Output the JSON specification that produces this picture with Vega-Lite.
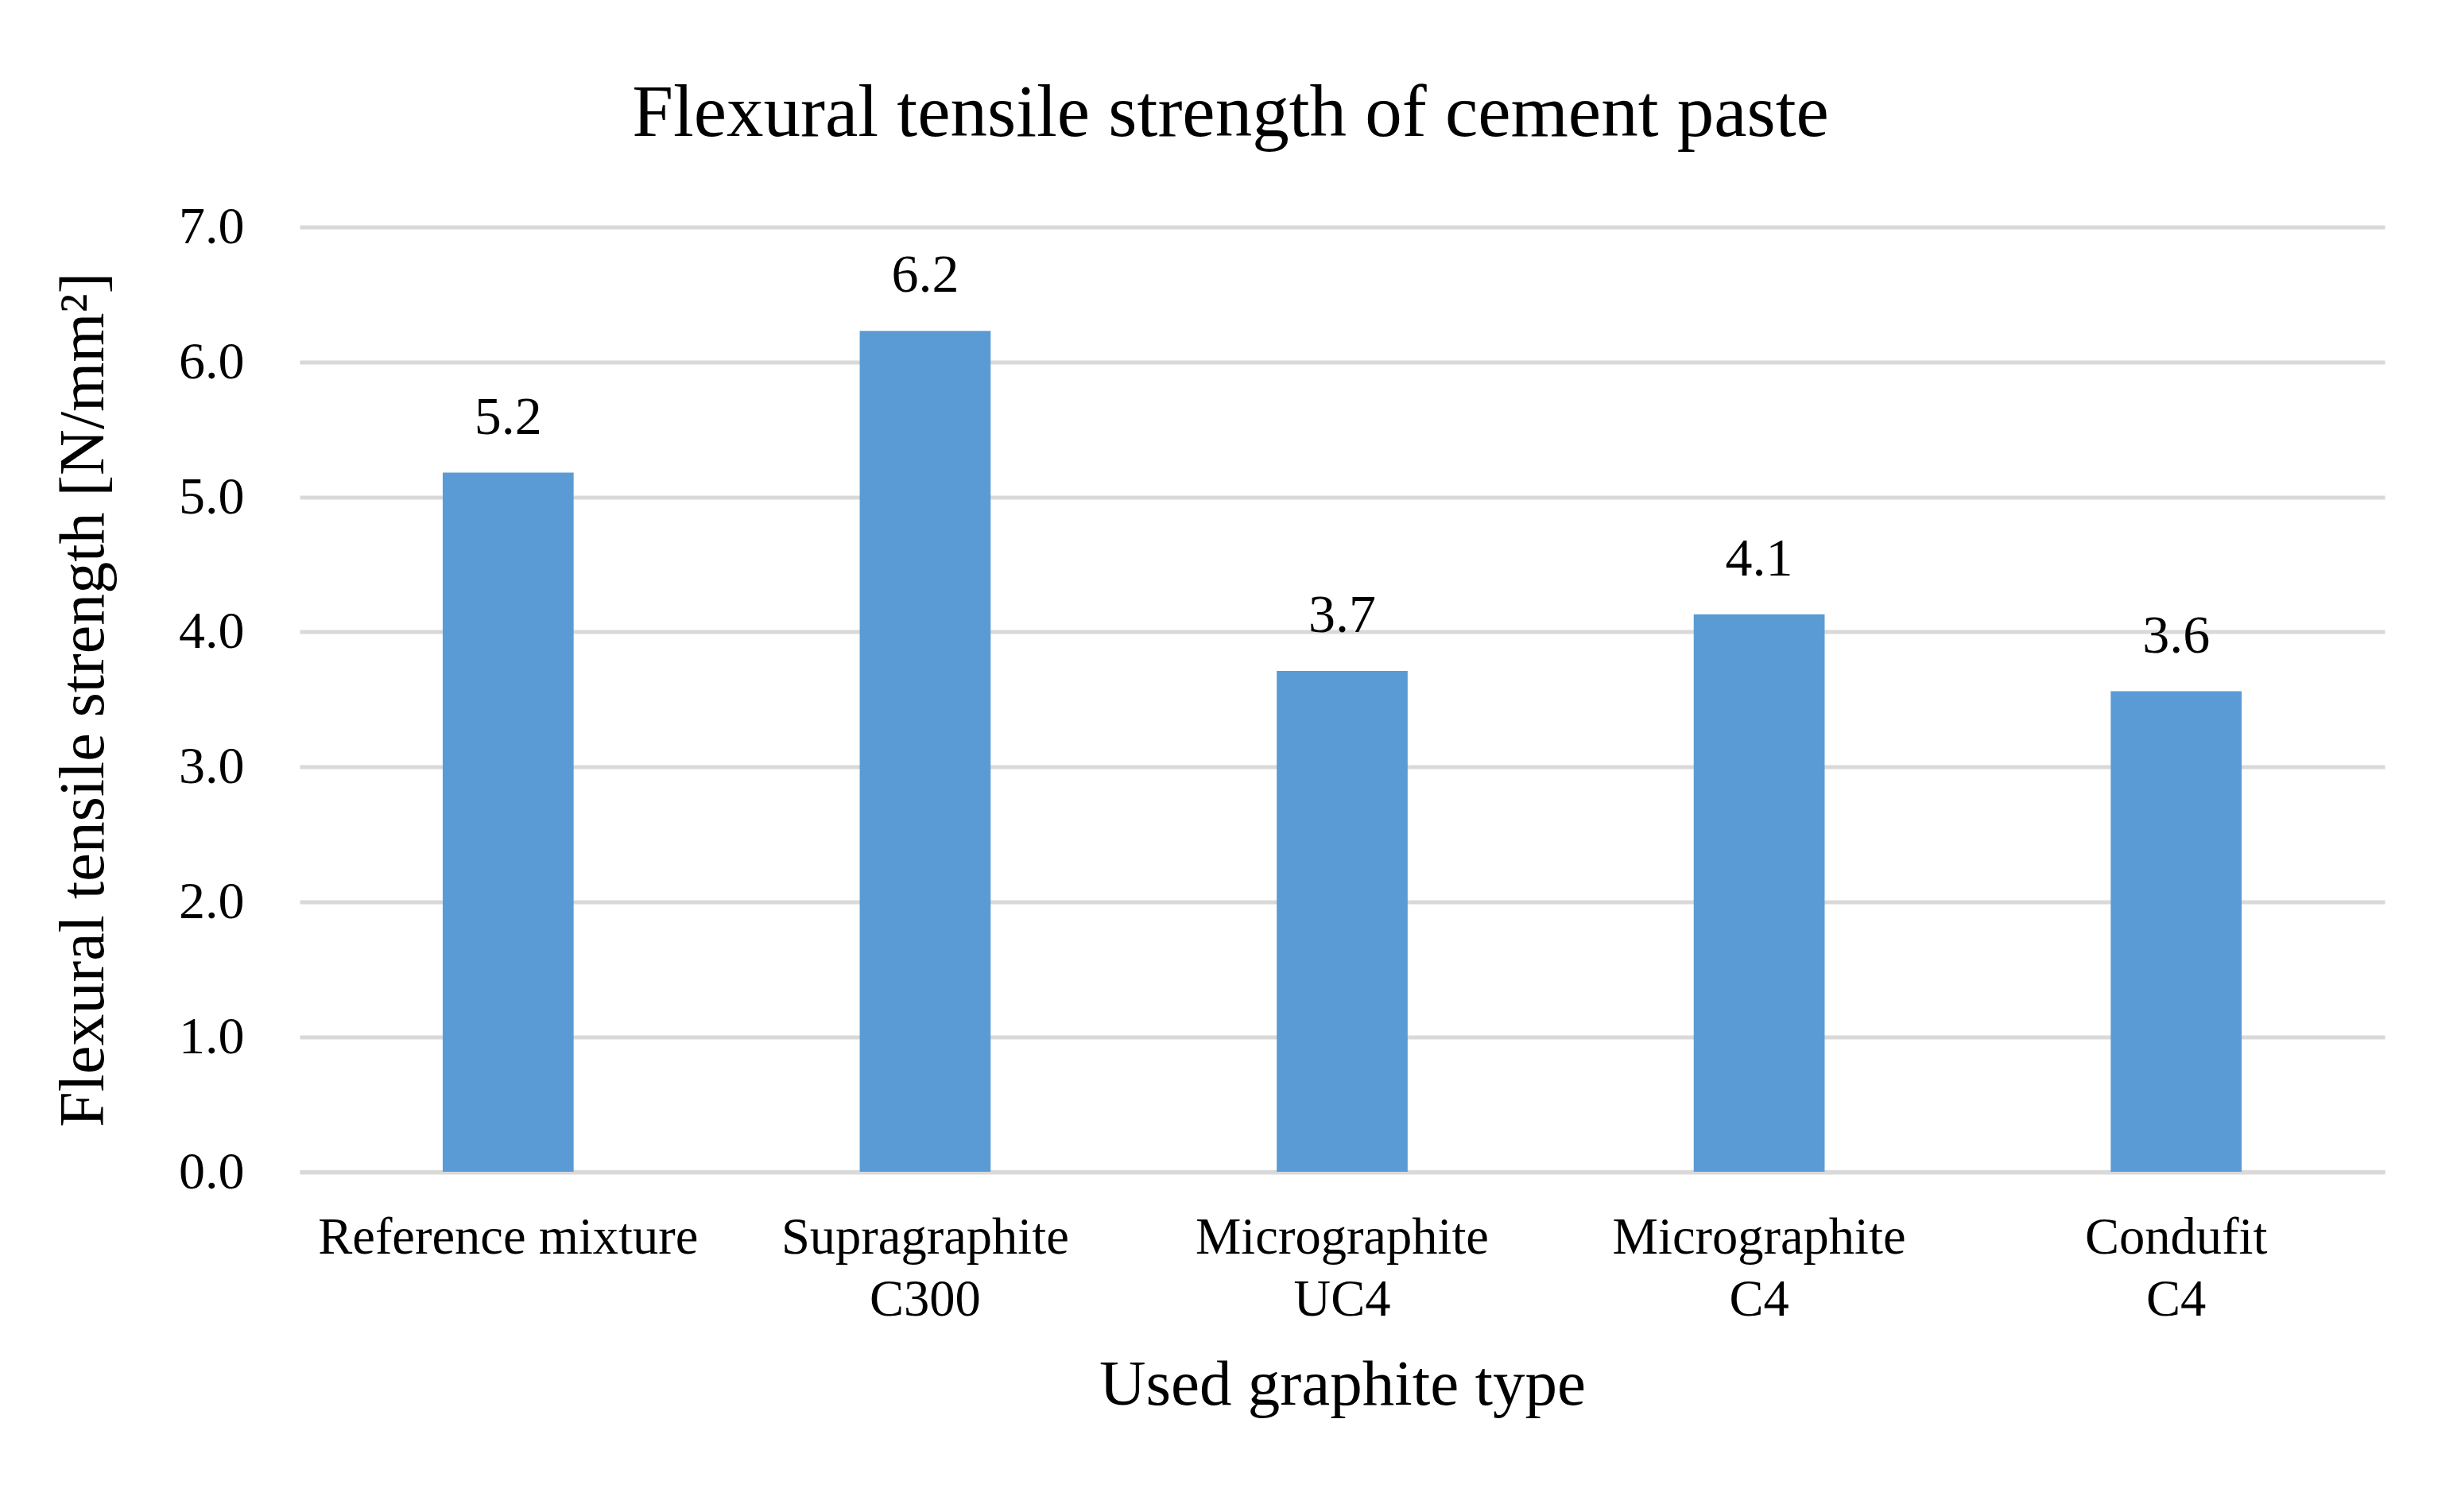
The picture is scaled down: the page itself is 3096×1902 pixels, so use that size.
{
  "$schema": "https://vega.github.io/schema/vega-lite/v6.json",
  "autosize": "none",
  "width": 2623,
  "height": 1188.5,
  "padding": {"left": 377, "top": 285.5, "right": 96, "bottom": 428},
  "background": "white",
  "title": {
    "text": "Flexural tensile strength of cement paste",
    "font": "Liberation Serif",
    "fontSize": 93,
    "fontWeight": "normal",
    "color": "black",
    "anchor": "middle",
    "dx": -140.5,
    "offset": 62
  },
  "data": {
    "values": [
      {"type": "Reference mixture", "strength": 5.18},
      {"type": "Supragraphite C300", "strength": 6.23},
      {"type": "Micrographite UC4", "strength": 3.71},
      {"type": "Micrographite C4", "strength": 4.13},
      {"type": "Condufit C4", "strength": 3.56}
    ]
  },
  "encoding": {
    "x": {
      "field": "type",
      "type": "nominal",
      "sort": null,
      "scale": {"paddingInner": 0.686, "paddingOuter": 0.343},
      "axis": {
        "title": "Used graphite type",
        "labelAngle": 0,
        "labelExpr": "datum.label == 'Reference mixture' ? datum.label : split(datum.label, ' ')",
        "labelFont": "Liberation Serif",
        "labelFontSize": 64.5,
        "labelLimit": 0,
        "labelLineHeight": 78,
        "labelColor": "black",
        "labelPadding": 51,
        "ticks": false,
        "tickSize": 0,
        "domain": true,
        "domainColor": "#d9d9d9",
        "domainWidth": 5,
        "grid": false,
        "titleFont": "Liberation Serif",
        "titleFontSize": 81,
        "titleFontWeight": "normal",
        "titleColor": "black",
        "titlePadding": 36
      }
    },
    "y": {
      "field": "strength",
      "type": "quantitative",
      "scale": {"domain": [0, 7]},
      "axis": {
        "title": "Flexural tensile strength [N/mm²]",
        "values": [0, 1, 2, 3, 4, 5, 6, 7],
        "format": ".1f",
        "labelFont": "Liberation Serif",
        "labelFontSize": 66,
        "labelColor": "black",
        "labelPadding": 70,
        "ticks": false,
        "tickSize": 0,
        "domain": false,
        "grid": true,
        "gridColor": "#d9d9d9",
        "gridWidth": 5,
        "titleFont": "Liberation Serif",
        "titleFontSize": 80,
        "titleFontWeight": "normal",
        "titleColor": "black",
        "titlePadding": 78
      }
    }
  },
  "layer": [
    {"mark": {"type": "bar", "color": "#5b9bd5"}},
    {
      "mark": {
        "type": "text",
        "font": "Liberation Serif",
        "fontSize": 68,
        "color": "black",
        "baseline": "alphabetic",
        "align": "center",
        "dy": -49
      },
      "encoding": {
        "text": {"field": "strength", "type": "quantitative", "format": ".1f"}
      }
    }
  ],
  "config": {
    "view": {"stroke": null}
  }
}
